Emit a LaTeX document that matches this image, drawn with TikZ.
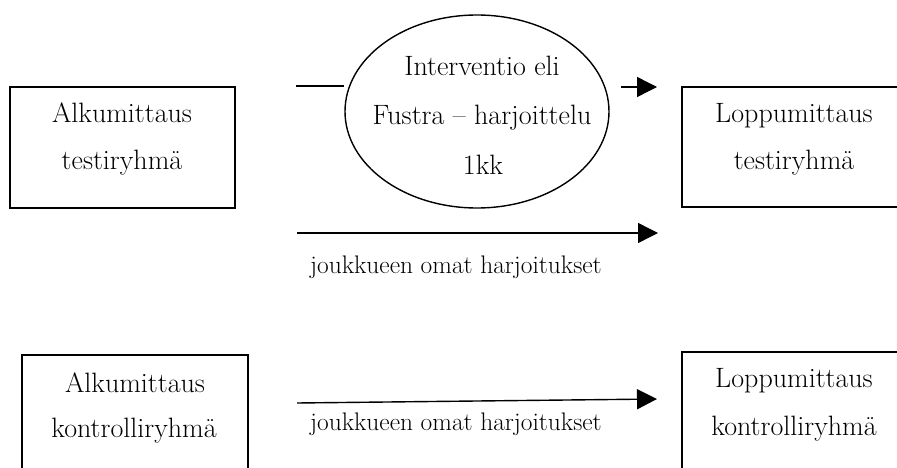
\documentclass[tikz,border=0pt]{standalone}
\usepackage{fontspec}
\usetikzlibrary{arrows.meta,shapes.geometric}
\tikzset{
  boxshape/.style={draw, line width=1.4pt, rectangle, inner sep=0pt},
  ellshape/.style={draw, line width=1.4pt, ellipse, inner sep=0pt},
  txt/.style={anchor=base, inner sep=0pt, font=\fontsize{28}{30}\selectfont},
  etxt/.style={anchor=base, inner sep=0pt, font=\fontsize{28}{30}\selectfont},
  lbl/.style={anchor=base west, inner sep=0pt, font=\fontsize{25.4}{28}\selectfont},
  arr/.style={line width=1.4pt, -{Triangle[length=20pt,width=20pt]}},
  plainline/.style={line width=1.4pt}
}
\begin{document}
\begin{tikzpicture}[x=1pt,y=-1pt]
\clip (0,0) rectangle (897,468);
\fill[white] (0,0) rectangle (897,468);
% boxes
\node[boxshape, minimum width=225pt, minimum height=121pt] (b1) at (122.5,147.5) {};
\node[boxshape, minimum width=238pt, minimum height=120pt] (b2) at (801,147) {};
\node[boxshape, minimum width=226pt, minimum height=135pt] (b3) at (135,422.5) {};
\node[boxshape, minimum width=238pt, minimum height=138pt] (b4) at (801,421) {};
\node[ellshape, minimum width=264pt, minimum height=193pt] (ell) at (477,111.5) {};
% texts
\node[txt] (b1a) at (122,123) {Alkumittaus};
\node[txt] (b1b) at (122,170) {testiryhmä};
\node[txt] (b2a) at (794,123) {Loppumittaus};
\node[txt] (b2b) at (794,170) {testiryhmä};
\node[txt] (b3a) at (135,392) {Alkumittaus};
\node[txt] (b3b) at (134,437) {kontrolliryhmä};
\node[txt] (b4a) at (794,387) {Loppumittaus};
\node[txt] (b4b) at (794,435) {kontrolliryhmä};
\node[etxt] (e1) at (482,76) {Interventio eli};
\node[etxt] (e2) at (482,125) {Fustra – harjoittelu};
\node[etxt] (e3) at (483,175) {1kk};
\node[lbl] (l1) at (310,273) {joukkueen omat harjoitukset};
\node[lbl] (l2) at (310,430) {joukkueen omat harjoitukset};
% connectors
\coordinate (c1) at (296,86);
\draw[plainline] (c1) -- (c1 -| ell.west);
\coordinate (c2s) at (621,87);
\coordinate (c2e) at (657,87);
\draw[arr] (c2s) -- (c2e);
\coordinate (c3s) at (297,233);
\coordinate (c3e) at (658,233);
\draw[arr] (c3s) -- (c3e);
\coordinate (c4s) at (297,403);
\coordinate (c4e) at (657,399);
\draw[arr] (c4s) -- (c4e);
\end{tikzpicture}
\end{document}
